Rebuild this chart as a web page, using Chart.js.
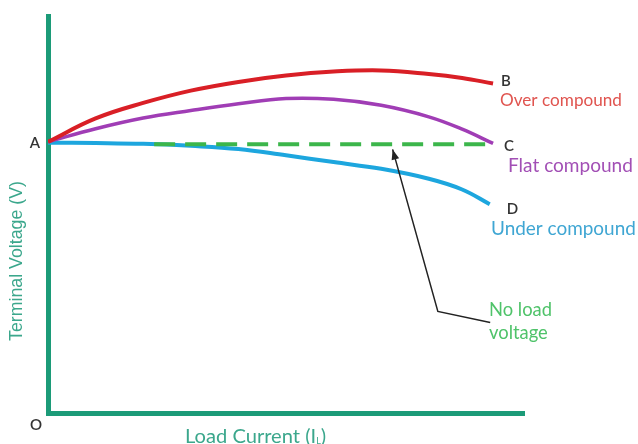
<!DOCTYPE html>
<html>
<head>
<meta charset="utf-8">
<script src="https://cdn.jsdelivr.net/npm/chart.js@4/dist/chart.umd.min.js"></script>
<style>
  html, body { margin: 0; padding: 0; background: #fff; }
  #wrap { width: 638px; height: 444px; position: relative; }
</style>
</head>
<body>
<div id="wrap"><canvas id="chart"></canvas></div>
<script>
// values (load current 0..100, terminal voltage 0..100, arbitrary units)
const overX = [0, 10, 20, 30, 40, 50, 60, 70, 80, 87, 93.5];
const overY = [68.3, 74.2, 78.1, 81.2, 83.4, 85.0, 86.0, 86.3, 85.4, 84.4, 83.0];

const flatX = [0, 10, 20, 30, 40, 50, 60, 70, 80, 87, 93.5];
const flatY = [68.3, 71.6, 74.3, 76.2, 77.9, 79.2, 79.0, 77.5, 74.6, 71.5, 67.9];

const underX = [0, 10, 20, 30, 40, 50, 60, 70, 80, 87, 92.8];
const underY = [68.1, 68.0, 67.8, 67.3, 66.5, 64.9, 63.2, 61.5, 59.0, 56.3, 52.6];

const noLoadX = [22.3, 93.5];
const noLoadY = [67.7, 67.7];

const arrowX = [92.9, 81.9, 72.4];
const arrowY = [22.8, 25.6, 66.4];

const curveNames = ['Over compound', 'Flat compound', 'Under compound'];
const curveLetters = ['B', 'C', 'D'];
const xTitle = 'Load Current (I';
const xTitleSub = 'L';
const yTitle = 'Terminal Voltage (V)';

function pts(xs, ys) {
  return xs.map((x, i) => ({ x: x, y: ys[i] }));
}

// pick a font size so the text spans the given width
function fitFont(ctx, text, width, family, weight) {
  ctx.font = (weight || '') + ' 100px ' + family;
  const w = ctx.measureText(text).width;
  return (weight || '') + ' ' + (100 * width / w).toFixed(2) + 'px ' + family;
}

const labelsPlugin = {
  id: 'labels',
  afterDraw(chart) {
    const ctx = chart.ctx;
    const xs = chart.scales.x, ys = chart.scales.y;
    const px = v => xs.getPixelForValue(v);
    const py = v => ys.getPixelForValue(v);
    ctx.save();

    // arrow head at the end of the pointer line
    const n = arrowX.length;
    const tx = px(arrowX[n - 1]), ty = py(arrowY[n - 1]);
    const fx = px(arrowX[n - 2]), fy = py(arrowY[n - 2]);
    const ang = Math.atan2(ty - fy, tx - fx);
    ctx.fillStyle = '#222';
    ctx.beginPath();
    ctx.moveTo(tx, ty);
    ctx.lineTo(tx - 11 * Math.cos(ang - 0.36), ty - 11 * Math.sin(ang - 0.36));
    ctx.lineTo(tx - 11 * Math.cos(ang + 0.36), ty - 11 * Math.sin(ang + 0.36));
    ctx.closePath();
    ctx.fill();

    ctx.textBaseline = 'middle';
    ctx.textAlign = 'left';

    // point letters
    ctx.font = '600 15px Lato';
    ctx.fillStyle = '#333';
    ctx.textAlign = 'center';
    ctx.fillText('A', 35, 143);
    ctx.fillText('O', 36, 425);
    ctx.textAlign = 'left';
    const ends = [
      [px(overX[overX.length - 1]) + 8, py(overY[overY.length - 1]) - 2],
      [px(flatX[flatX.length - 1]) + 11, py(flatY[flatY.length - 1]) + 3],
      [px(underX[underX.length - 1]) + 17, py(underY[underY.length - 1]) + 5]
    ];
    curveLetters.forEach((l, i) => ctx.fillText(l, ends[i][0], ends[i][1]));

    // curve names
    const nameColors = ['#e0544f', '#a24fb5', '#3fa6d3'];
    const namePos = [[500, 100], [508, 166], [491, 229]];
    const nameWidths = [122, 125, 145];
    curveNames.forEach((t, i) => {
      ctx.font = fitFont(ctx, t, nameWidths[i], 'Lato');
      ctx.fillStyle = nameColors[i];
      ctx.fillText(t, namePos[i][0], namePos[i][1]);
    });

    // no load voltage note
    ctx.fillStyle = '#4fc36a';
    ctx.font = fitFont(ctx, 'No load', 63, 'Lato');
    ctx.fillText('No load', 489, 310);
    ctx.fillText('voltage', 489, 333);

    // axis titles
    ctx.fillStyle = '#3ba78c';
    ctx.font = fitFont(ctx, xTitle + xTitleSub + ')', 147, 'Lato');
    ctx.fillText(xTitle, 185, 437);
    const w = ctx.measureText(xTitle).width;
    const mainFont = ctx.font;
    ctx.font = '9px Lato';
    ctx.fillText(xTitleSub, 185 + w, 441);
    const sw = ctx.measureText(xTitleSub).width;
    ctx.font = mainFont;
    ctx.fillText(')', 185 + w + sw, 437);

    ctx.translate(17, 261);
    ctx.rotate(-Math.PI / 2);
    ctx.textAlign = 'center';
    ctx.font = fitFont(ctx, yTitle, 160, 'Liberation Sans');
    ctx.fillText(yTitle, 0, 0);

    ctx.restore();
  }
};

const line = (data, color, width, extra) => Object.assign({
  data: data,
  borderColor: color,
  borderWidth: width,
  pointRadius: 0,
  fill: false,
  tension: 0.4
}, extra || {});

new Chart(document.getElementById('chart'), {
  type: 'line',
  data: {
    datasets: [
      line(pts(arrowX, arrowY), '#222', 1.5, { tension: 0 }),
      line(pts(noLoadX, noLoadY), '#3cb64b', 4, { tension: 0, borderDash: [21, 10] }),
      line(pts(overX, overY), '#d91f26', 4),
      line(pts(flatX, flatY), '#a03db5', 3.5),
      line(pts(underX, underY), '#1da6de', 4)
    ]
  },
  options: {
    responsive: true,
    maintainAspectRatio: false,
    animation: false,
    events: [],
    layout: { padding: { left: 40, right: 114, top: 16, bottom: 23 } },
    plugins: { legend: { display: false }, tooltip: { enabled: false } },
    scales: {
      x: {
        type: 'linear', min: 0, max: 100,
        grid: { display: false },
        ticks: { display: false },
        border: { display: true, color: '#1c9b78', width: 5 }
      },
      y: {
        type: 'linear', min: 0, max: 100,
        grid: { display: false },
        ticks: { display: false },
        border: { display: true, color: '#1c9b78', width: 5 }
      }
    }
  },
  plugins: [labelsPlugin]
});
</script>
</body>
</html>
